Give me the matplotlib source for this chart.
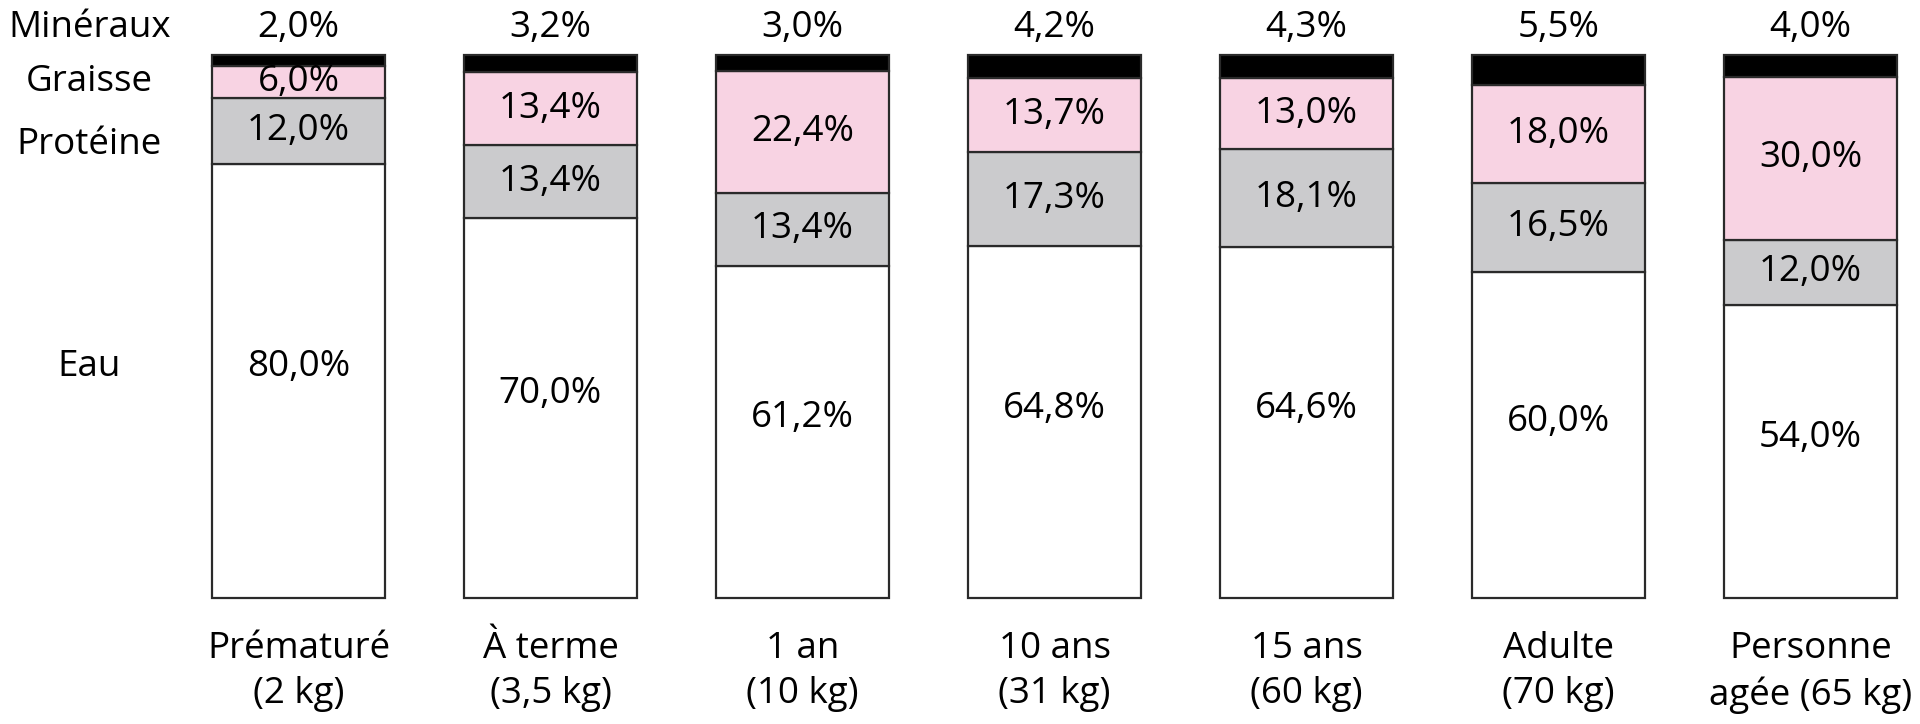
import matplotlib.pyplot as plt

# composition corporelle par age (en %)
groupes = ['Prématuré\n(2 kg)', 'À terme\n(3,5 kg)', '1 an\n(10 kg)', '10 ans\n(31 kg)',
           '15 ans\n(60 kg)', 'Adulte\n(70 kg)', 'Personne\nagée (65 kg)']
eau = [80.0, 70.0, 61.2, 64.8, 64.6, 60.0, 54.0]
proteine = [12.0, 13.4, 13.4, 17.3, 18.1, 16.5, 12.0]
graisse = [6.0, 13.4, 22.4, 13.7, 13.0, 18.0, 30.0]
mineraux = [2.0, 3.2, 3.0, 4.2, 4.3, 5.5, 4.0]

couleurs = {'eau': 'white', 'proteine': '#cbcbcd', 'graisse': '#f8d3e3', 'mineraux': 'black'}

plt.rcParams['font.family'] = ['Open Sans', 'DejaVu Sans']
taille = 26.5

def fmt(v):
	return ('%.1f%%' % v).replace('.', ',')

fig = plt.figure(figsize=(19.2, 7.24), dpi=100)
ax = fig.add_axes([0, 0.174, 1, 0.75])
ax.set_xlim(-1.1845, 6.4345)
ax.set_ylim(0, 100)
ax.axis('off')

x = list(range(len(groupes)))
largeur = 0.69
bas = [0] * len(x)
for nom, serie in [('eau', eau), ('proteine', proteine), ('graisse', graisse), ('mineraux', mineraux)]:
	ax.bar(x, serie, largeur, bottom=bas, color=couleurs[nom], edgecolor='#2a2a2a',
		linewidth=1.6, clip_on=False)
	for i in x:
		if nom == 'eau':
			ax.text(i, serie[i] / 2 + 2.5, fmt(serie[i]), ha='center', va='center', fontsize=taille)
		elif nom == 'mineraux':
			ax.text(i, 103.3, fmt(serie[i]), ha='center', va='baseline', fontsize=taille)
		else:
			ax.text(i, bas[i] + serie[i] / 2, fmt(serie[i]), ha='center', va='center', fontsize=taille)
	bas = [b + s for b, s in zip(bas, serie)]

# noms des composants a gauche
xl = -0.83
ax.text(xl, 103.3, 'Minéraux', ha='center', va='baseline', fontsize=taille)
ax.text(xl, eau[0] + proteine[0] + graisse[0] / 2, 'Graisse', ha='center', va='center', fontsize=taille)
ax.text(xl, eau[0] + proteine[0] / 2 - 2.5, 'Protéine', ha='center', va='center', fontsize=taille)
ax.text(xl, eau[0] / 2 + 2.5, 'Eau', ha='center', va='center', fontsize=taille)

for i in x:
	ax.text(i, -6.0, groupes[i], ha='center', va='top', fontsize=taille, linespacing=1.35)

fig.savefig('out.png', dpi=100)
